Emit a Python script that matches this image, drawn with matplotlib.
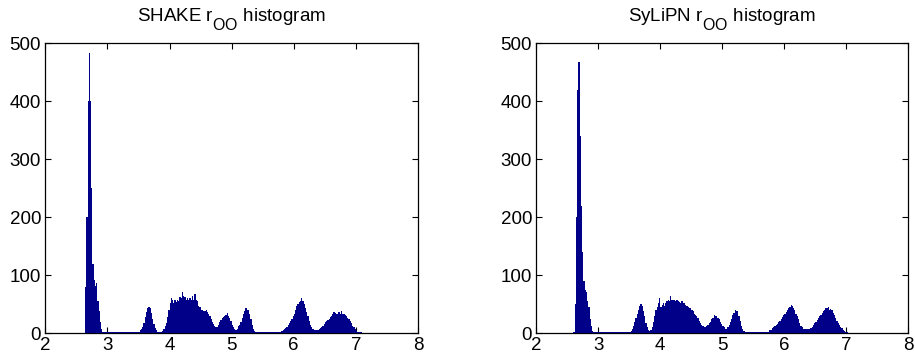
import numpy as np
import matplotlib
matplotlib.use("Agg")
import matplotlib.pyplot as plt
import matplotlib._mathtext as mathtext_internals

plt.rcParams['font.family'] = ['Liberation Sans', 'DejaVu Sans']
plt.rcParams['mathtext.fontset'] = 'custom'
plt.rcParams['mathtext.rm'] = 'Liberation Sans'
plt.rcParams['mathtext.it'] = 'Liberation Sans:italic'
# MATLAB draws subscripts larger and lower than mathtext's default
mathtext_internals.SHRINK_FACTOR = 0.85
mathtext_internals.FontConstantsBase.subdrop = 0.9
mathtext_internals.FontConstantsBase.sub1 = 0.9

# bins of width 0.02 from 2.60 to 7.20 (each row = 0.1 in r_OO)
bin_start = 2.60
bin_width = 0.02

shake_counts = [
    0, 0, 80, 200, 400,       # 2.6
    484, 400, 250, 120, 92,   # 2.7
    82, 87, 55, 38, 20,       # 2.8
    7, 2, 2, 2, 2,            # 2.9
    2, 2, 2, 2, 2,            # 3.0
    2, 2, 2, 2, 2,            # 3.1
    2, 2, 2, 2, 2,            # 3.2
    2, 2, 2, 2, 2,            # 3.3
    2, 2, 2, 2, 2,            # 3.4
    3, 5, 8, 11, 18,          # 3.5
    28, 36, 44, 46, 43,       # 3.6
    35, 24, 16, 9, 5,         # 3.7
    3, 2, 2, 3, 4,            # 3.8
    8, 13, 18, 28, 40,        # 3.9
    52, 60, 58, 52, 57,       # 4.0
    54, 58, 56, 63, 60,       # 4.1
    71, 64, 62, 58, 61,       # 4.2
    57, 60, 58, 64, 58,       # 4.3
    67, 58, 55, 47, 45,       # 4.4
    40, 40, 39, 38, 41,       # 4.5
    36, 33, 29, 24, 20,       # 4.6
    16, 12, 10, 11, 15,       # 4.7
    20, 23, 26, 28, 29,       # 4.8
    31, 35, 29, 26, 21,       # 4.9
    15, 10, 7, 6, 8,          # 5.0
    12, 15, 20, 27, 33,       # 5.1
    38, 43, 40, 40, 33,       # 5.2
    24, 15, 8, 4, 2,          # 5.3
    2, 2, 2, 2, 2,            # 5.4
    2, 2, 2, 2, 2,            # 5.5
    2, 2, 2, 2, 2,            # 5.6
    2, 2, 2, 2, 3,            # 5.7
    4, 5, 7, 9, 11,           # 5.8
    14, 17, 21, 25, 30,       # 5.9
    34, 40, 47, 51, 54,       # 6.0
    56, 60, 55, 50, 44,       # 6.1
    36, 29, 22, 15, 10,       # 6.2
    7, 5, 5, 5, 6,            # 6.3
    7, 9, 11, 13, 16,         # 6.4
    19, 21, 23, 25, 28,       # 6.5
    30, 33, 36, 35, 34,       # 6.6
    33, 36, 34, 38, 34,       # 6.7
    33, 32, 30, 27, 25,       # 6.8
    22, 18, 13, 10, 7,        # 6.9
    4, 3, 2, 2, 2,            # 7.0
    0, 0, 0, 0, 0,            # 7.1
]

sylipn_counts = [
    3, 50, 200, 420, 467,     # 2.6
    340, 220, 140, 90, 75,    # 2.7
    71, 55, 45, 25, 12,       # 2.8
    4, 2, 2, 2, 2,            # 2.9
    2, 2, 2, 2, 2,            # 3.0
    2, 2, 2, 2, 2,            # 3.1
    2, 2, 2, 2, 2,            # 3.2
    2, 2, 2, 2, 2,            # 3.3
    2, 2, 2, 2, 2,            # 3.4
    2, 4, 7, 12, 20,          # 3.5
    26, 33, 40, 47, 50,       # 3.6
    47, 38, 29, 18, 11,       # 3.7
    6, 4, 6, 11, 20,          # 3.8
    30, 40, 46, 52, 60,       # 3.9
    46, 49, 52, 47, 52,       # 4.0
    55, 57, 56, 64, 58,       # 4.1
    57, 58, 56, 57, 55,       # 4.2
    54, 53, 55, 52, 53,       # 4.3
    48, 47, 46, 44, 43,       # 4.4
    41, 38, 34, 32, 29,       # 4.5
    26, 22, 18, 15, 12,       # 4.6
    10, 11, 13, 15, 18,       # 4.7
    20, 24, 27, 31, 30,       # 4.8
    29, 27, 24, 20, 16,       # 4.9
    13, 10, 7, 7, 10,         # 5.0
    14, 19, 25, 31, 35,       # 5.1
    40, 39, 39, 30, 21,       # 5.2
    13, 7, 4, 2, 2,           # 5.3
    2, 2, 2, 2, 2,            # 5.4
    2, 2, 2, 2, 2,            # 5.5
    2, 2, 2, 2, 2,            # 5.6
    2, 2, 3, 5, 6,            # 5.7
    9, 10, 12, 14, 16,        # 5.8
    19, 22, 25, 28, 31,       # 5.9
    34, 37, 40, 43, 45,       # 6.0
    48, 47, 43, 40, 34,       # 6.1
    30, 24, 17, 13, 10,       # 6.2
    8, 7, 7, 7, 8,            # 6.3
    8, 9, 11, 14, 17,         # 6.4
    20, 23, 26, 29, 32,       # 6.5
    35, 38, 40, 43, 44,       # 6.6
    46, 41, 42, 40, 35,       # 6.7
    31, 27, 22, 17, 14,       # 6.8
    11, 9, 6, 4, 3,           # 6.9
    2, 0, 0, 0, 0,            # 7.0
    0, 0, 0, 0, 0,            # 7.1
]

titles = ['SHAKE r$_{\\mathrm{OO}}$ histogram', 'SyLiPN r$_{\\mathrm{OO}}$ histogram']
xticks = [2, 3, 4, 5, 6, 7, 8]
yticks = [0, 100, 200, 300, 400, 500]

bar_color = '#000088'
edges = bin_start + bin_width * np.arange(len(shake_counts) + 1)

fig = plt.figure(figsize=(9.15, 3.6), dpi=100)
ax1 = fig.add_axes([0.0495, 0.0742, 0.4073, 0.8056])
ax2 = fig.add_axes([0.5861, 0.0742, 0.4066, 0.8056])

for ax, counts, title in zip([ax1, ax2], [shake_counts, sylipn_counts], titles):
    # histogram drawn over the bottom axis line, like the original
    ax.stairs(counts, edges, fill=True, color=bar_color, linewidth=0, zorder=3)
    ax.set_xlim(2, 8)
    ax.set_ylim(0, 500)
    ax.set_xticks(xticks)
    ax.set_yticks(yticks)
    ax.tick_params(direction='in', length=4, width=0.8, top=True, right=True,
                   labelsize=13.5, pad=3)
    for s in ax.spines.values():
        s.set_linewidth(0.9)
    ax.set_title(title, fontsize=13.5, pad=16)

fig.savefig('out.png', dpi=100)
